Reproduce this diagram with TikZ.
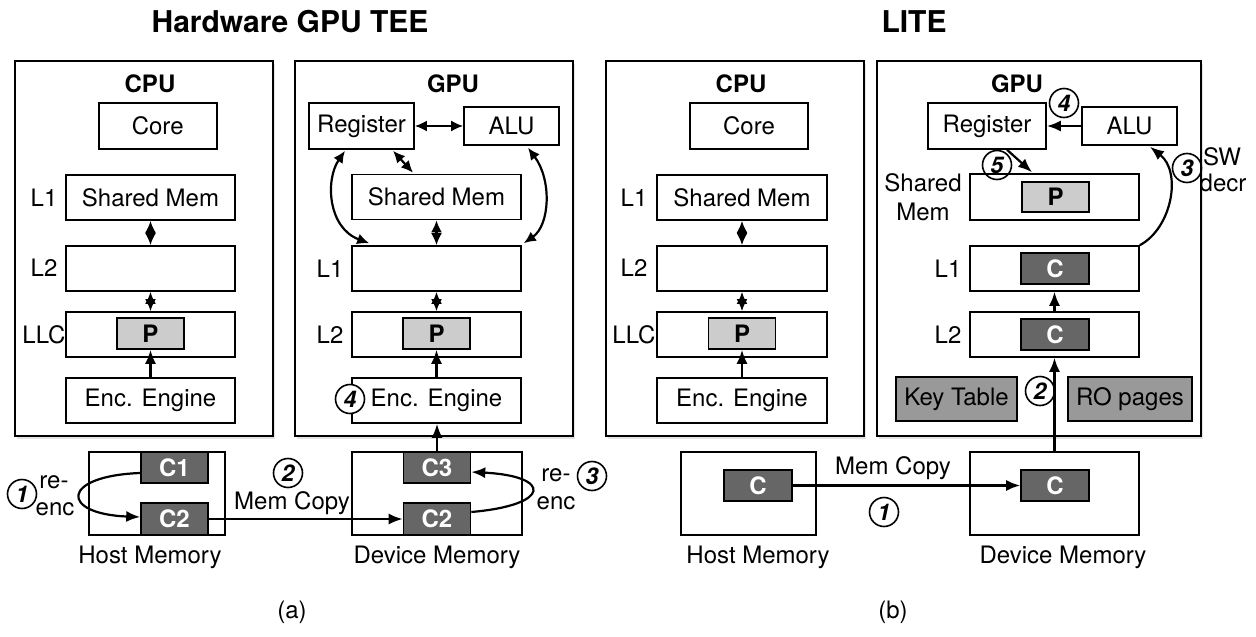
\documentclass[tikz,border=0pt]{standalone}
\usepackage{fontspec}
\setmainfont{TeX Gyre Heros}
\usetikzlibrary{arrows.meta,shadows,calc}
\definecolor{pgray}{HTML}{CCCCCC}
\definecolor{cgray}{HTML}{666666}
\definecolor{kgray}{HTML}{999999}
\begin{document}
\begin{tikzpicture}[x=1pt,y=-1pt,
  every node/.style={font=\fontsize{24}{28}\selectfont},
  box/.style={draw, line width=1.6pt, inner sep=0pt, minimum height=45pt, minimum width=169pt},
  outer/.style={draw, line width=1.6pt, fill=white, inner sep=0pt,
    drop shadow={opacity=0.22, shadow xshift=2pt, shadow yshift=-3pt}},
  pbox/.style={draw, line width=1.6pt, fill=pgray, inner sep=0pt, minimum width=67pt, minimum height=31pt, font=\fontsize{24}{28}\selectfont\bfseries},
  cbox/.style={draw, line width=1.6pt, fill=cgray, text=white, inner sep=0pt, minimum width=67pt, minimum height=31pt, font=\fontsize{24}{28}\selectfont\bfseries},
  gbox/.style={draw, line width=1.6pt, fill=kgray, inner sep=0pt, minimum height=44pt},
  num/.style={circle, draw, line width=1.6pt, minimum size=29pt, inner sep=0pt, font=\fontsize{23}{24}\selectfont\bfseries\itshape},
  ttl/.style={font=\fontsize{24}{28}\selectfont\bfseries},
  big/.style={font=\fontsize{30}{34}\selectfont\bfseries},
  arr/.style={-{Latex[length=14pt,width=11pt]}, line width=2.2pt},
  darr/.style={{Latex[length=12pt,width=11pt]}-{Latex[length=12pt,width=11pt]}, line width=2.2pt}
]
\useasboundingbox (0,0) rectangle (1256,637);

% titles
\node[big] (t1) at (290,22) {Hardware GPU TEE};
\node[big] (t2) at (914,22) {LITE};
\node (capa) at (292,612) {(a)};
\node (capb) at (893,612) {(b)};

% ===== (a) CPU =====
\node[outer, minimum width=258pt, minimum height=375pt] (cpua) at (144,248.5) {};
\node[ttl] (cpual) at (150,84) {CPU};
\node[box, minimum width=118pt, minimum height=46pt] (corea) at (157.7,126) {Core};
\node[box] (l1a) at (150.5,197.5) {Shared Mem};
\node[box] (l2a) at (150.5,268.5) {};
\node[box] (llca) at (150.5,334.5) {};
\node[pbox] (pa) at (150.5,333.5) {P};
\node[box] (enca) at (150.5,400.5) {Enc. Engine};
\node (l1al) at (44,198) {L1};
\node (l2al) at (44,268) {L2};
\node (llcal) at (44,335) {LLC};
\draw[darr] (l1a) -- (l2a);
\draw[darr] (l2a) -- (llca);
\draw[arr] (enca) -- (pa);

% ===== (a) GPU =====
\node[outer, minimum width=278pt, minimum height=375pt] (gpua) at (434,248.5) {};
\node[ttl] (gpual) at (453,84) {GPU};
\node[box, minimum width=105pt, minimum height=46pt] (rega) at (361.5,126) {Register};
\node[box, minimum width=95pt, minimum height=38pt] (alua) at (511.5,126) {ALU};
\node[box] (sma) at (436.5,197) {Shared Mem};
\node[box] (l1g) at (436.5,268.5) {};
\node[box] (l2g) at (436.5,334.5) {};
\node[pbox] (pg) at (436.5,333.5) {P};
\node[box] (encg) at (436.5,400.5) {Enc. Engine};
\node (l1gl) at (330,269) {L1};
\node (l2gl) at (330,335) {L2};
\node[num, fill=white] (n4a) at (350,399) {4};
\draw[darr] (rega) -- (alua);
\draw[darr] ($(rega.south)+(31.5,1)$) -- ($(sma.north)+(-23.5,-1)$);
\draw[darr] ($(rega.south)+(-16.5,1)$) .. controls (325,180) and (328,228) .. ($(l1g.north west)+(18,-2)$);
\draw[darr] ($(alua.south)+(16.5,2)$) .. controls (552,180) and (550,225) .. ($(l1g.north east)+(2,-2)$);
\draw[darr] (sma) -- (l1g);
\draw[darr] (l1g) -- (l2g);
\draw[arr] (encg) -- (pg);

% ===== (a) memories =====
\node[box, minimum width=136pt, minimum height=83pt] (hma) at (157,493.5) {};
\node[cbox] (c1a) at (174.5,467.5) {C1};
\node[cbox, minimum height=32pt] (c2a) at (174.5,519) {C2};
\node[box, minimum width=170pt, minimum height=83pt] (dma) at (437,493.5) {};
\node[cbox] (c3d) at (437,467.5) {C3};
\node[cbox, minimum height=32pt] (c2d) at (437,519) {C2};
\node (hmal) at (150,557) {Host Memory};
\node (dmal) at (437,557) {Device Memory};
\draw[arr] (c3d.north) -- (c3d.north |- encg.south);
\draw[arr] (c2a) -- (c2d);
\draw[arr] ($(c1a.west)+(0,5.5)$) .. controls (60,476) and (60,514) .. ($(c2a.west)+(0,-2)$);
\draw[arr] ($(c2d.east)+(0,-7)$) .. controls (552,505) and (552,476) .. ($(c3d.east)+(0,4.5)$);
\node[num] (n1a) at (22,494) {1};
\node (re1) at (54,482) {re-};
\node (enc1) at (55,509) {enc};
\node[num] (n2a) at (288,473) {2};
\node (mca) at (292,503) {Mem Copy};
\node (re3) at (556,475) {re-};
\node (enc3) at (556,503) {enc};
\node[num] (n3a) at (592,476) {3};

% ===== (b) CPU =====
\node[outer, minimum width=258pt, minimum height=375pt] (cpub) at (735,248.5) {};
\node[ttl] (cpubl) at (741,84) {CPU};
\node[box, minimum width=118pt, minimum height=46pt] (coreb) at (749,126) {Core};
\node[box, minimum width=170pt] (l1b) at (742,197.5) {Shared Mem};
\node[box, minimum width=170pt] (l2b) at (742,268.5) {};
\node[box, minimum width=170pt] (llcb) at (742,334.5) {};
\node[pbox] (pb) at (742,333.5) {P};
\node[box, minimum width=170pt] (encb) at (742,400.5) {Enc. Engine};
\node (l1bl) at (634,198) {L1};
\node (l2bl) at (634,268) {L2};
\node (llcbl) at (634,335) {LLC};
\draw[darr] (l1b) -- (l2b);
\draw[darr] (l2b) -- (llcb);
\draw[arr] (encb) -- (pb);

% ===== (b) GPU =====
\node[outer, minimum width=324pt, minimum height=375pt] (gpub) at (1039,248.5) {};
\node[ttl] (gpubl) at (1017,84) {GPU};
\node[box, minimum width=118pt, minimum height=46pt] (regb) at (987,126) {Register};
\node[box, minimum width=95pt, minimum height=38pt] (alub) at (1129.5,126) {ALU};
\node[box, minimum height=46pt] (smb) at (1054.5,197) {};
\node[pbox, minimum height=30pt] (psb) at (1055.5,197) {P};
\node (smbl1) at (923,183) {Shared};
\node (smbl2) at (923,212) {Mem};
\node[box] (l1gb) at (1054.5,268.5) {};
\node[cbox, minimum width=68pt] (cl1) at (1055,268.5) {C};
\node[box] (l2gb) at (1054.5,334.5) {};
\node[cbox, minimum width=68pt] (cl2) at (1055,334.5) {C};
\node (l1gbl) at (948,269) {L1};
\node (l2gbl) at (948,335) {L2};
\node[gbox, minimum width=121pt] (keyt) at (956.5,399) {Key Table};
\node[gbox, minimum width=124pt] (rop) at (1130,399) {RO pages};
\draw[arr] (alub) -- (regb);
\node[num] (n4b) at (1064,103) {4};
\draw[arr] ($(regb.south)+(20,0)$) -- ($(smb.north)+(-22.5,-1)$);
\node[num] (n5b) at (997,165) {5};
\draw[arr] (l1gb.north east) .. controls (1172,228) and (1182,172) .. ($(alub.south)+(20.5,1)$);
\node[num] (n3b) at (1187,168) {3};
\node (swl) at (1222,157) {SW};
\node (decrl) at (1223,183) {decr};
\draw[arr] (l2gb.north) -- (l1gb.south);

% ===== (b) memories =====
\node[box, minimum width=135pt, minimum height=83pt] (hmb) at (748.5,493.5) {};
\node[cbox, minimum width=68pt] (cb1) at (758,485.5) {C};
\node[box, minimum width=169pt, minimum height=83pt] (dmb) at (1054.5,493.5) {};
\node[cbox, minimum width=68pt] (cb2) at (1055,485.5) {C};
\node (hmbl) at (758,557) {Host Memory};
\node (dmbl) at (1063,557) {Device Memory};
\draw[arr] (cb1) -- (cb2);
\node (mcb) at (893,468) {Mem Copy};
\node[num] (n1b) at (884,512) {1};
\draw[arr] (dmb.north) -- (l2gb.south);
\node[num] (n2b) at (1040,391) {2};
\end{tikzpicture}
\end{document}
